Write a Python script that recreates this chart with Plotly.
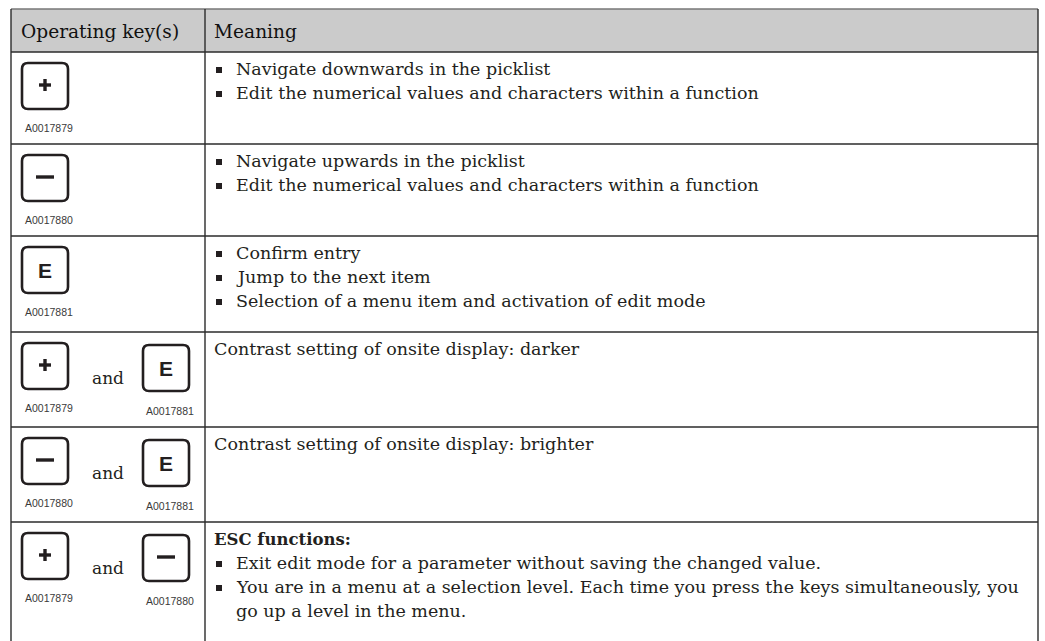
import plotly.graph_objects as go

# ---------------- table content ----------------
header = ["Operating key(s)", "Meaning"]
row_keys = [["+"], ["−"], ["E"], ["+", "E"], ["−", "E"], ["+", "−"]]
row_codes = [["A0017879"], ["A0017880"], ["A0017881"],
             ["A0017879", "A0017881"], ["A0017880", "A0017881"],
             ["A0017879", "A0017880"]]
joiner = "and"
row_title = ["", "", "", "", "", "ESC functions:"]
row_plain = ["", "", "",
             "Contrast setting of onsite display: darker",
             "Contrast setting of onsite display: brighter", ""]
row_bullets = [
    ["Navigate downwards in the picklist",
     "Edit the numerical values and characters within a function"],
    ["Navigate upwards in the picklist",
     "Edit the numerical values and characters within a function"],
    ["Confirm entry", "Jump to the next item",
     "Selection of a menu item and activation of edit mode"],
    [], [],
    ["Exit edit mode for a parameter without saving the changed value.",
     "You are in a menu at a selection level. Each time you press the keys simultaneously, you\ngo up a level in the menu."],
]

# ---------------- layout geometry ----------------
W, H = 1045, 641
X_L, X_D, X_R = 11, 205, 1038
Y_T, Y_H = 9, 52
row_edges = [52, 144, 236, 332, 427, 522, 700]
KEY_X = [22, 143]
KEY_W = 46
LINE_PITCH = 24
BODY = 17.5
INK = "#231f20"
SERIF = "DejaVu Serif"
SANS = "Liberation Sans"

shapes = []
ann = []


def rrect(x0, y0, x1, y1, r):
    return (f"M {x0+r},{y0} L {x1-r},{y0} Q {x1},{y0} {x1},{y0+r} "
            f"L {x1},{y1-r} Q {x1},{y1} {x1-r},{y1} L {x0+r},{y1} "
            f"Q {x0},{y1} {x0},{y1-r} L {x0},{y0+r} Q {x0},{y0} {x0+r},{y0} Z")


def text(x, y, s, size, color=INK, family=SERIF, xanchor="left", weight="normal"):
    ann.append(dict(x=x, y=y, xref="x", yref="y", text=s, showarrow=False,
                    xanchor=xanchor, yanchor="middle", align="left",
                    font=dict(family=family, size=size, color=color, weight=weight)))


# header background
shapes.append(dict(type="rect", x0=X_L, x1=X_R, y0=Y_T, y1=Y_H,
                   fillcolor="#cbcbcb", line=dict(width=0), layer="below"))
text(19, 31, header[0], 18.6, color="#111111")
text(212, 31, header[1], 18.6, color="#111111")

# grid lines
line_style = dict(color="#2b2b2b", width=1.4)
shapes.append(dict(type="line", x0=X_L, x1=X_R, y0=Y_T, y1=Y_T, line=dict(color="#777", width=1.4)))
for y in row_edges[:-1]:
    shapes.append(dict(type="line", x0=X_L, x1=X_R, y0=y, y1=y, line=line_style))
for x, y0 in [(X_L, Y_T), (X_D, Y_T), (X_R, Y_T)]:
    shapes.append(dict(type="line", x0=x, x1=x, y0=y0, y1=H + 5, line=line_style))


def draw_key(x0, y0, sym):
    x1, y1 = x0 + KEY_W, y0 + KEY_W
    shapes.append(dict(type="path", path=rrect(x0, y0, x1, y1, 6),
                       line=dict(color=INK, width=2.6), fillcolor="white"))
    cx, cy = (x0 + x1) / 2, (y0 + y1) / 2 - 1
    if sym == "+":
        shapes.append(dict(type="line", x0=cx - 6, x1=cx + 6, y0=cy, y1=cy, line=dict(color=INK, width=3.4)))
        shapes.append(dict(type="line", x0=cx, x1=cx, y0=cy - 6, y1=cy + 6, line=dict(color=INK, width=3.4)))
    elif sym == "−":
        shapes.append(dict(type="line", x0=cx - 9, x1=cx + 9, y0=cy, y1=cy, line=dict(color=INK, width=3.4)))
    else:
        text(cx, cy + 1, sym, 21, family=SANS, xanchor="center", weight="bold")


for i in range(6):
    top = row_edges[i]
    keys = row_keys[i]
    codes = row_codes[i]
    for k, (sym, code) in enumerate(zip(keys, codes)):
        ky = top + 11 + 2 * k
        draw_key(KEY_X[k], ky, sym)
        text(KEY_X[k] + 1, ky + KEY_W + 19 + k, code, 10.5, color="#3a3a3a", family=SANS)
    if len(keys) == 2:
        text(108, top + 46, joiner, 17, xanchor="center")

    # meaning column
    y = top + 17
    if row_title[i]:
        text(212, y, row_title[i], 16.5, weight="bold")
        y += LINE_PITCH
    if row_plain[i]:
        text(212, y, row_plain[i], BODY)
        y += LINE_PITCH
    for b in row_bullets[i]:
        shapes.append(dict(type="rect", x0=216, x1=222, y0=y - 2, y1=y + 4,
                           fillcolor=INK, line=dict(width=0)))
        for j, ln in enumerate(b.split("\n")):
            text(234, y, ln, BODY)
            y += LINE_PITCH

fig = go.Figure()
fig.update_layout(
    width=W, height=H, margin=dict(l=0, r=0, t=0, b=0),
    paper_bgcolor="white", plot_bgcolor="white",
    xaxis=dict(range=[0, W], visible=False, fixedrange=True),
    yaxis=dict(range=[H, 0], visible=False, fixedrange=True),
    shapes=shapes, annotations=ann, showlegend=False,
)
fig.write_html("out.html", config={"displayModeBar": False},
               post_script="document.body.style.margin='0';document.body.style.overflow='hidden';")
